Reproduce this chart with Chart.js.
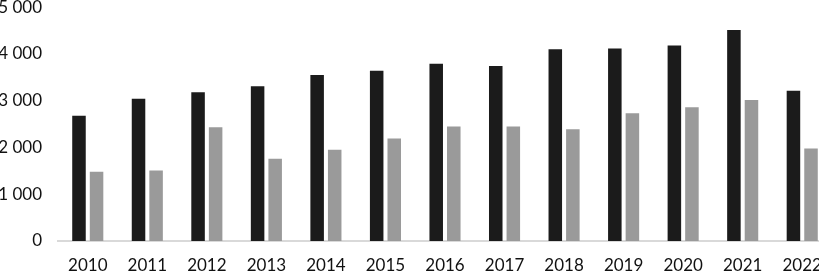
<!DOCTYPE html>
<html>
<head>
<meta charset="utf-8">
<script src="https://cdn.jsdelivr.net/npm/chart.js@4"></script>
<style>
  html, body { margin: 0; padding: 0; background: #fff; overflow: hidden; }
  #wrap { position: absolute; left: 0; top: -11px; width: 832px; height: 283px; }
</style>
</head>
<body>
<div id="wrap"><canvas id="chart" width="832" height="283"></canvas></div>
<script>
const years = ["2010", "2011", "2012", "2013", "2014", "2015", "2016",
               "2017", "2018", "2019", "2020", "2021", "2022"];
const seriesDark = [2680, 3040, 3180, 3310, 3550, 3640, 3790, 3745, 4100, 4115, 4180, 4510, 3215];
const seriesGray = [1480, 1510, 2430, 1760, 1950, 2190, 2450, 2450, 2390, 2730, 2860, 3015, 1980];
const yTicks = [0, 1000, 2000, 3000, 4000, 5000];

const fmt = v => v >= 1000 ? Math.floor(v / 1000) + " " + String(v % 1000).padStart(3, "0") : String(v);

new Chart(document.getElementById('chart'), {
    type: "bar",
    data: {
        labels: years,
        datasets: [
            {
                data: seriesDark,
                backgroundColor: "#1b1b1b",
                categoryPercentage: 0.59,
                barPercentage: 0.77
            },
            {
                data: seriesGray,
                backgroundColor: "#9a9a9a",
                categoryPercentage: 0.59,
                barPercentage: 0.77
            }
        ]
    },
    options: {
        responsive: false,
        animation: false,
        layout: { padding: { top: -19, right: 0, left: 0, bottom: 0 } },
        plugins: {
            legend: { display: false },
            tooltip: { enabled: false }
        },
        scales: {
            x: {
                grid: { display: false },
                border: { display: true, color: "#d9d9d9", width: 2 },
                ticks: {
                    font: { family: "Lato", size: 17 },
                    color: "#111",
                    padding: 6,
                    maxRotation: 0
                },
                afterFit: s => { s.height = 31; }
            },
            y: {
                min: 0,
                max: 5000,
                afterBuildTicks: s => { s.ticks = yTicks.map(v => ({ value: v })); },
                grid: { display: false },
                border: { display: false },
                ticks: {
                    font: { family: "Lato", size: 17 },
                    color: "#111",
                    padding: 8,
                    callback: v => fmt(v)
                },
                afterFit: s => { s.width = 58; }
            }
        }
    }
});
</script>
</body>
</html>
